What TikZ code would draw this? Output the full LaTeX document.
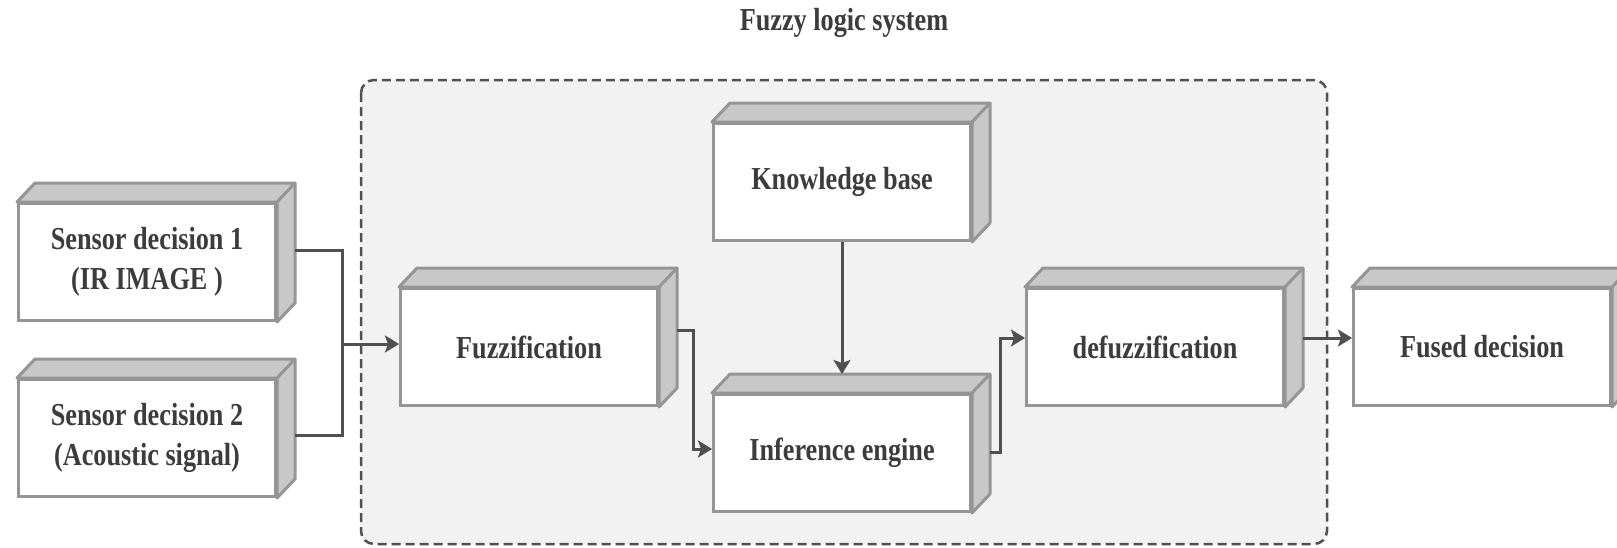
\documentclass[tikz,border=0pt]{standalone}
\usepackage{fontspec}
\setmainfont{Liberation Serif}
\newfontfamily\blockfont[FakeStretch=0.82]{Liberation Serif}
\usetikzlibrary{arrows.meta,calc}
\definecolor{boxedge}{HTML}{959595}
\definecolor{boxface}{HTML}{C8C8C8}
\definecolor{linegray}{HTML}{505050}
\definecolor{textgray}{HTML}{3C3C3C}
\definecolor{panel}{HTML}{F2F2F2}

\begin{document}
\begin{tikzpicture}[x=1pt,y=-1pt,>={Stealth[length=14pt,width=17pt,inset=3pt]},
  flow/.style={->,draw=linegray,line width=3pt},
  wire/.style={draw=linegray,line width=3pt},
  block/.style={rectangle,draw=boxedge,line width=3pt,fill=white,
    minimum width=257pt,minimum height=117pt,inner sep=0pt,align=center,
    text=textgray,font=\blockfont\bfseries\fontsize{32}{40}\selectfont,
    append after command={\pgfextra{
      \draw[draw=boxedge,fill=boxface,line width=3pt,line join=round]
        (\tikzlastnode.north west) -- ++(18pt,19pt)
        -- ([shift={(18pt,19pt)}]\tikzlastnode.north east)
        -- ([shift={(18pt,19pt)}]\tikzlastnode.south east)
        -- (\tikzlastnode.south east) -- (\tikzlastnode.north east) -- cycle;
      \draw[draw=boxedge,line width=3pt,line cap=round]
        (\tikzlastnode.north east) -- ++(18pt,19pt);}}}]

  \useasboundingbox (0,0) rectangle (1617,547);

  % fuzzy logic system panel
  \draw[fill=panel,draw=linegray,line width=2.5pt,dash pattern=on 9pt off 5pt,
    rounded corners=13pt] (361,80) rectangle (1327,544);
  \node[text=textgray,font=\blockfont\bfseries\fontsize{32}{40}\selectfont] (Title) at (844,23) {Fuzzy logic system};

  \node[block] (Sensor1) at (147,262) {Sensor decision 1\\(IR IMAGE )};
  \node[block] (Sensor2) at (147,438) {Sensor decision 2\\(Acoustic signal)};
  \node[block] (Fuzzification) at (529,347) {Fuzzification};
  \node[block] (Knowledge) at (842,182) {Knowledge base};
  \node[block] (Inference) at (842,453) {Inference engine};
  \node[block] (Defuzzification) at (1155,347) {defuzzification};
  \node[block] (Fused) at (1482,347) {Fused decision};

  \coordinate (Sensor1Out) at ([shift={(18pt,12pt)}]Sensor1.east);
  \coordinate (Sensor2Out) at ([shift={(18pt,3pt)}]Sensor2.east);
  \coordinate (Join) at (342,344);

  \draw[wire] (Sensor1Out) -| (Join) |- (Sensor2Out);
  \draw[flow] (Join) -- (Fuzzification.west |- Join);
  \draw[flow] ([shift={(18pt,17pt)}]Fuzzification.east) -- ++(16pt,0pt)
    |- ([yshift=4pt]Inference.west);
  \draw[flow] (Knowledge.south) -- ([yshift=19pt]Inference.north);
  \draw[flow] ([shift={(18pt,1pt)}]Inference.east) -- ++(10pt,0pt)
    |- ([yshift=9pt]Defuzzification.west);
  \draw[flow] ([shift={(18pt,9pt)}]Defuzzification.east) -- ([yshift=9pt]Fused.west);
\end{tikzpicture}
\end{document}
